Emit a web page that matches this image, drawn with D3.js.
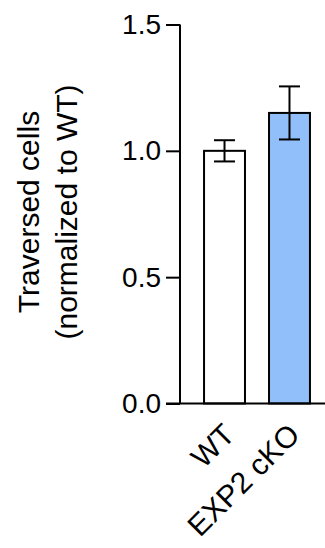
<!DOCTYPE html>
<html><head><meta charset="utf-8">
<script src="https://cdn.jsdelivr.net/npm/d3@7"></script>
<style>body{margin:0;background:#fff}svg{display:block}text{font-family:"Liberation Sans",Arial,sans-serif;fill:#000}</style>
</head><body><svg id="c" width="325" height="548"></svg>
<script>
const categories = ["WT", "EXP2 cKO"];
const means = [1.0, 1.15];
const errors = [0.042, 0.105];
const colors = ["#ffffff", "#91bff9"];
const yTicks = [0.0, 0.5, 1.0, 1.5];
const yTickLabels = ["0.0", "0.5", "1.0", "1.5"];
const yTitle = ["Traversed cells", "(normalized to WT)"];

const svg = d3.select("#c");
const axisX = 180, y0 = 403.5, y1 = 24.5;
const y = d3.scaleLinear().domain([0, 1.5]).range([y0, y1]);
const x = d3.scaleBand().domain(categories).range([axisX, axisX + 154]).paddingInner(0.37).paddingOuter(0.37);

// y axis
const yAxis = d3.axisLeft(y).tickValues(yTicks).tickFormat((d, i) => yTickLabels[i]).tickSize(14).tickPadding(5);
const gy = svg.append("g").attr("transform", `translate(${axisX},0)`).call(yAxis);
gy.select(".domain").attr("stroke", "#000").attr("stroke-width", 2).attr("d", `M0,${y1}V${y0}`);
gy.selectAll(".tick line").attr("stroke", "#000").attr("stroke-width", 2);
gy.selectAll(".tick text").attr("font-size", 28).attr("font-family", '"Liberation Sans",Arial,sans-serif').attr("fill", "#000");

// bars
const bw = x.bandwidth();
svg.selectAll("rect.bar").data(categories).enter().append("rect")
  .attr("x", d => x(d)).attr("width", bw)
  .attr("y", (d, i) => y(means[i])).attr("height", (d, i) => y0 - y(means[i]))
  .attr("fill", (d, i) => colors[i]).attr("stroke", "#000").attr("stroke-width", 2);

// x axis line
svg.append("line").attr("x1", axisX - 14).attr("x2", 325).attr("y1", y0).attr("y2", y0)
  .attr("stroke", "#000").attr("stroke-width", 2);

// error bars
const cap = 21;
categories.forEach((c, i) => {
  const cx = x(c) + bw / 2;
  const g = svg.append("g").attr("stroke", "#000").attr("stroke-width", 2);
  g.append("line").attr("x1", cx).attr("x2", cx).attr("y1", y(means[i] + errors[i])).attr("y2", y(means[i] - errors[i]));
  g.append("line").attr("x1", cx - cap / 2).attr("x2", cx + cap / 2).attr("y1", y(means[i] + errors[i])).attr("y2", y(means[i] + errors[i]));
  g.append("line").attr("x1", cx - cap / 2).attr("x2", cx + cap / 2).attr("y1", y(means[i] - errors[i])).attr("y2", y(means[i] - errors[i]));
});

// x labels
svg.selectAll("text.xl").data(categories).enter().append("text")
  .attr("class", "xl").attr("font-size", 30).attr("text-anchor", "end")
  .attr("transform", d => `translate(${x(d) + bw / 2 + 12},${y0 + 33}) rotate(-45)`)
  .text(d => d);

// y title
const tt = svg.append("text").attr("font-size", 30).attr("text-anchor", "middle")
  .attr("transform", `translate(38.5,212) rotate(-90)`);
tt.append("tspan").attr("x", 0).attr("y", 0).text(yTitle[0]);
tt.append("tspan").attr("x", 0).attr("y", 38).text(yTitle[1]);
</script></body></html>
